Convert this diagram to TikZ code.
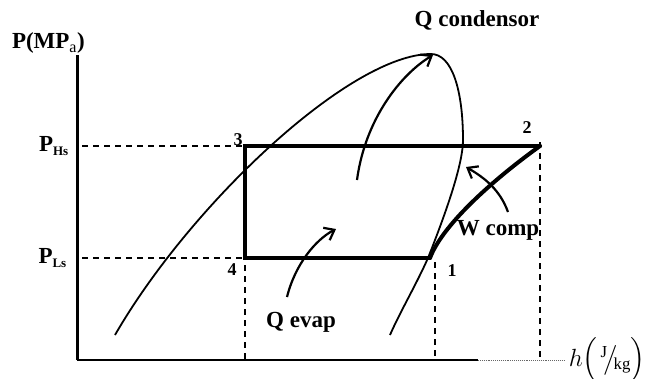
\documentclass[tikz,border=0pt]{standalone}
\usepackage{amsmath}
\usepackage{fontspec}
\setmainfont{Liberation Serif}
\usepackage{tikz}
\usetikzlibrary{arrows.meta}

\begin{document}
\begin{tikzpicture}[x=1pt,y=-1pt,
  cycleline/.style={line width=4pt,line cap=round},
  domeline/.style={line width=1.8pt},
  guide/.style={line width=1.6pt,dash pattern=on 6pt off 5pt},
  heatarrow/.style={line width=2.2pt,-{Straight Barb[length=9pt,width=14pt,line width=2.2pt]}},
  lbl/.style={font=\fontsize{23}{26}\selectfont\bfseries,inner sep=1pt},
  ptlbl/.style={font=\fontsize{18}{20}\selectfont\bfseries,inner sep=1pt}]
\useasboundingbox (0,0) rectangle (648,378);
% axes
\coordinate (O) at (77,360);
\coordinate (ytop) at (77,55);
\coordinate (xmid) at (478,360);
\coordinate (xend) at (565,360);
\draw[line width=3pt] (O)--(ytop);
\draw[line width=1.2pt] (O)--(xmid);
\draw[line width=.9pt,densely dotted,black!60] (xmid)--(xend);
\node[lbl,anchor=east] (ylab) at (86,43) {P(MP$_{\mathrm{a}}$)};
\node[font=\fontsize{24}{28}\selectfont,anchor=east,inner sep=1pt] (hlab) at (647,360)
  {$h\Bigl(\mkern2mu{}^{\mathrm{J}}\!\big/\!_{\mathrm{kg}}\Bigr)$};
% cycle points
\coordinate (p1) at (430,258);
\coordinate (p2) at (540,146);
\coordinate (p3) at (245,146);
\coordinate (p4) at (245,258);
\coordinate (yH) at (82,146);
\coordinate (yL) at (82,258);
\node[lbl,anchor=east] (pH) at (70,146) {P$_{\text{\fontsize{13}{14}\selectfont Hs}}$};
\node[lbl,anchor=east] (pL) at (68,258) {P$_{\text{\fontsize{13}{14}\selectfont Ls}}$};
% guides
\draw[guide] (yH)--(p3);
\draw[guide] (yL)--(p4);
\draw[guide] ([yshift=4pt]p4)--(p4|-O);
\draw[guide] (435,262)--(435,358);
\draw[guide] ([yshift=4pt]p2)--(p2|-O);
% saturation dome
\draw[domeline] (115,335) .. controls (190,205) and (350,54) .. (431,54)
  .. controls (452,54) and (463,90) .. (463,140)
  .. controls (463,165) and (445,215) .. (428,258)
  .. controls (416,285) and (400,312) .. (390,335);
% cycle
\draw[cycleline] (p2)--(p3)--(p4)--(p1);
\draw[cycleline] (p1) .. controls (442,226) and (490,182) .. (p2);
\node[ptlbl] (n1) at (452,271) {1};
\node[ptlbl] (n2) at (527,128) {2};
\node[ptlbl] (n3) at (238,140) {3};
\node[ptlbl] (n4) at (232,270) {4};
% heat and work
\coordinate (qc0) at (357,180);
\coordinate (qc1) at (433,55);
\coordinate (qe0) at (287,297);
\coordinate (qe1) at (336,229);
\coordinate (wc0) at (508,212);
\coordinate (wc1) at (466,167);
\draw[heatarrow] (qc0) .. controls (365,120) and (400,75) .. (qc1);
\draw[heatarrow] (qe0) .. controls (295,265) and (315,240) .. (qe1);
\draw[heatarrow] (wc0) .. controls (500,190) and (485,178) .. (wc1);
\node[lbl] (qcond) at (477,20) {Q condensor};
\node[lbl] (qevap) at (301,322) {Q evap};
\node[lbl] (wcomp) at (498,230) {W comp};
\end{tikzpicture}
\end{document}
